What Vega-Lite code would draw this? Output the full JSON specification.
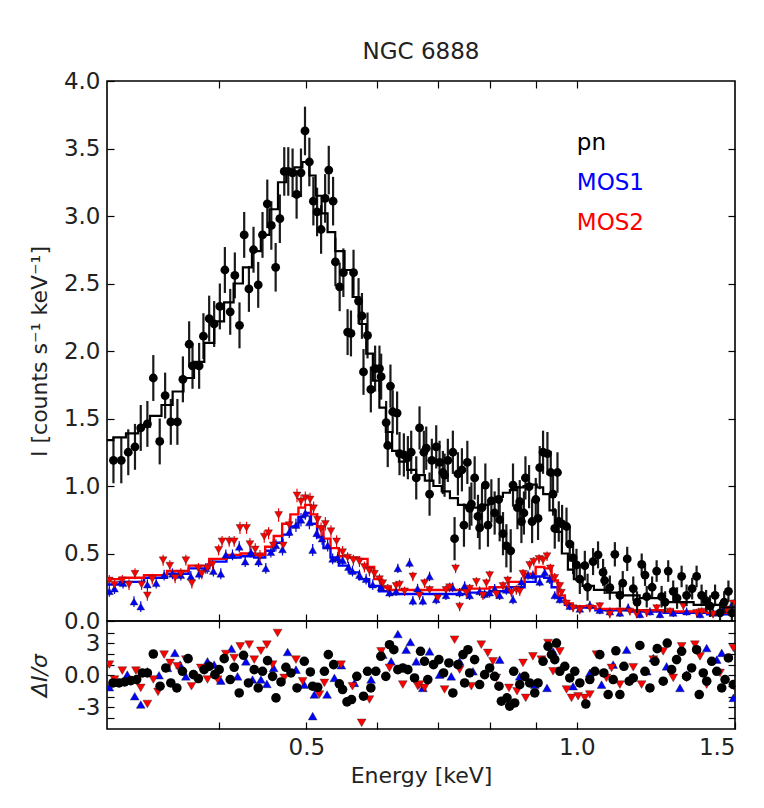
{
  "$schema": "https://vega.github.io/schema/vega-lite/v6.json",
  "background": "white",
  "padding": {"left": 27, "top": 40, "right": 5, "bottom": 5},
  "spacing": 0,
  "bounds": "flush",
  "config": {
    "font": "DejaVu Sans",
    "view": {"stroke": "black", "strokeWidth": 1.6},
    "axis": {"grid": false, "domain": false, "tickColor": "black", "tickSize": -7, "tickWidth": 1.2, "labelPadding": 14, "labelColor": "#222", "labelFont": "DejaVu Sans", "labelFontSize": 23, "titleFont": "DejaVu Sans", "titleFontSize": 22, "titleFontWeight": "normal", "titleColor": "#222"},
    "title": {"font": "DejaVu Sans", "fontSize": 23, "fontWeight": "normal", "color": "#222"}
  },
  "datasets": {
    "spec": [
      {"s":"MOS1","E":0.3018,"I":0.22,"e":0.04},{"s":"MOS1","E":0.3058,"I":0.24,"e":0.04},{"s":"MOS1","E":0.3126,"I":0.28,"e":0.04},{"s":"MOS1","E":0.3215,"I":0.144,"e":0.04},{"s":"MOS1","E":0.3271,"I":0.107,"e":0.04},{"s":"MOS1","E":0.3327,"I":0.27,"e":0.04},{"s":"MOS1","E":0.3403,"I":0.28,"e":0.04},{"s":"MOS1","E":0.3473,"I":0.34,"e":0.04},{"s":"MOS1","E":0.3548,"I":0.35,"e":0.04},{"s":"MOS1","E":0.3625,"I":0.34,"e":0.04},{"s":"MOS1","E":0.3719,"I":0.33,"e":0.04},{"s":"MOS1","E":0.3799,"I":0.35,"e":0.04},{"s":"MOS1","E":0.3865,"I":0.39,"e":0.04},{"s":"MOS1","E":0.394,"I":0.37,"e":0.04},{"s":"MOS1","E":0.4016,"I":0.35,"e":0.04},{"s":"MOS1","E":0.4068,"I":0.49,"e":0.04},{"s":"MOS1","E":0.4138,"I":0.49,"e":0.04},{"s":"MOS1","E":0.421,"I":0.55,"e":0.04},{"s":"MOS1","E":0.4275,"I":0.44,"e":0.04},{"s":"MOS1","E":0.4338,"I":0.51,"e":0.04},{"s":"MOS1","E":0.4424,"I":0.44,"e":0.04},{"s":"MOS1","E":0.4507,"I":0.39,"e":0.04},{"s":"MOS1","E":0.4566,"I":0.51,"e":0.04},{"s":"MOS1","E":0.4625,"I":0.56,"e":0.045},{"s":"MOS1","E":0.4704,"I":0.53,"e":0.045},{"s":"MOS1","E":0.4786,"I":0.66,"e":0.045},{"s":"MOS1","E":0.4869,"I":0.71,"e":0.05},{"s":"MOS1","E":0.4932,"I":0.75,"e":0.05},{"s":"MOS1","E":0.4987,"I":0.8,"e":0.05},{"s":"MOS1","E":0.5039,"I":0.73,"e":0.05},{"s":"MOS1","E":0.5082,"I":0.526,"e":0.045},{"s":"MOS1","E":0.5135,"I":0.65,"e":0.045},{"s":"MOS1","E":0.5206,"I":0.61,"e":0.045},{"s":"MOS1","E":0.5281,"I":0.56,"e":0.045},{"s":"MOS1","E":0.5349,"I":0.46,"e":0.04},{"s":"MOS1","E":0.5418,"I":0.47,"e":0.04},{"s":"MOS1","E":0.5487,"I":0.45,"e":0.04},{"s":"MOS1","E":0.5571,"I":0.4,"e":0.04},{"s":"MOS1","E":0.5628,"I":0.37,"e":0.04},{"s":"MOS1","E":0.5729,"I":0.34,"e":0.04},{"s":"MOS1","E":0.5828,"I":0.31,"e":0.04},{"s":"MOS1","E":0.5928,"I":0.27,"e":0.04},{"s":"MOS1","E":0.6057,"I":0.25,"e":0.035},{"s":"MOS1","E":0.6188,"I":0.21,"e":0.035},{"s":"MOS1","E":0.6293,"I":0.22,"e":0.035},{"s":"MOS1","E":0.6322,"I":0.39,"e":0.035},{"s":"MOS1","E":0.6514,"I":0.43,"e":0.035},{"s":"MOS1","E":0.657,"I":0.15,"e":0.035},{"s":"MOS1","E":0.6649,"I":0.24,"e":0.035},{"s":"MOS1","E":0.674,"I":0.15,"e":0.035},{"s":"MOS1","E":0.6857,"I":0.33,"e":0.035},{"s":"MOS1","E":0.6975,"I":0.16,"e":0.035},{"s":"MOS1","E":0.7152,"I":0.19,"e":0.035},{"s":"MOS1","E":0.7274,"I":0.25,"e":0.035},{"s":"MOS1","E":0.7406,"I":0.21,"e":0.035},{"s":"MOS1","E":0.7502,"I":0.26,"e":0.035},{"s":"MOS1","E":0.7599,"I":0.19,"e":0.035},{"s":"MOS1","E":0.7796,"I":0.22,"e":0.035},{"s":"MOS1","E":0.7897,"I":0.2,"e":0.035},{"s":"MOS1","E":0.7999,"I":0.21,"e":0.035},{"s":"MOS1","E":0.8102,"I":0.24,"e":0.035},{"s":"MOS1","E":0.8207,"I":0.19,"e":0.035},{"s":"MOS1","E":0.8349,"I":0.23,"e":0.035},{"s":"MOS1","E":0.8492,"I":0.16,"e":0.035},{"s":"MOS1","E":0.8676,"I":0.29,"e":0.035},{"s":"MOS1","E":0.8825,"I":0.34,"e":0.035},{"s":"MOS1","E":0.8937,"I":0.34,"e":0.035},{"s":"MOS1","E":0.9094,"I":0.29,"e":0.035},{"s":"MOS1","E":0.9212,"I":0.36,"e":0.035},{"s":"MOS1","E":0.9331,"I":0.31,"e":0.035},{"s":"MOS1","E":0.9451,"I":0.19,"e":0.03},{"s":"MOS1","E":0.9574,"I":0.16,"e":0.03},{"s":"MOS1","E":0.9822,"I":0.11,"e":0.03},{"s":"MOS1","E":1.0078,"I":0.09,"e":0.03},{"s":"MOS1","E":1.034,"I":0.12,"e":0.03},{"s":"MOS1","E":1.0608,"I":0.08,"e":0.03},{"s":"MOS1","E":1.0884,"I":0.07,"e":0.03},{"s":"MOS1","E":1.1168,"I":0.06,"e":0.03},{"s":"MOS1","E":1.1408,"I":0.1,"e":0.03},{"s":"MOS1","E":1.1755,"I":0.05,"e":0.03},{"s":"MOS1","E":1.2062,"I":0.07,"e":0.03},{"s":"MOS1","E":1.2376,"I":0.05,"e":0.03},{"s":"MOS1","E":1.2804,"I":0.06,"e":0.03},{"s":"MOS1","E":1.325,"I":0.07,"e":0.03},{"s":"MOS1","E":1.3714,"I":0.05,"e":0.03},{"s":"MOS1","E":1.4181,"I":0.06,"e":0.03},{"s":"MOS1","E":1.456,"I":0.085,"e":0.03},{"s":"MOS1","E":1.4874,"I":0.12,"e":0.03},
      {"s":"MOS2","E":0.3018,"I":0.3,"e":0.04},{"s":"MOS2","E":0.3058,"I":0.27,"e":0.04},{"s":"MOS2","E":0.312,"I":0.3,"e":0.04},{"s":"MOS2","E":0.3174,"I":0.27,"e":0.04},{"s":"MOS2","E":0.3223,"I":0.35,"e":0.04},{"s":"MOS2","E":0.3278,"I":0.27,"e":0.04},{"s":"MOS2","E":0.3327,"I":0.19,"e":0.04},{"s":"MOS2","E":0.3369,"I":0.31,"e":0.04},{"s":"MOS2","E":0.3464,"I":0.45,"e":0.04},{"s":"MOS2","E":0.3524,"I":0.41,"e":0.04},{"s":"MOS2","E":0.3572,"I":0.32,"e":0.04},{"s":"MOS2","E":0.3625,"I":0.35,"e":0.04},{"s":"MOS2","E":0.3672,"I":0.45,"e":0.04},{"s":"MOS2","E":0.3729,"I":0.28,"e":0.04},{"s":"MOS2","E":0.3792,"I":0.39,"e":0.04},{"s":"MOS2","E":0.3825,"I":0.35,"e":0.04},{"s":"MOS2","E":0.3881,"I":0.39,"e":0.04},{"s":"MOS2","E":0.3932,"I":0.42,"e":0.04},{"s":"MOS2","E":0.3993,"I":0.526,"e":0.04},{"s":"MOS2","E":0.4029,"I":0.59,"e":0.04},{"s":"MOS2","E":0.4103,"I":0.59,"e":0.04},{"s":"MOS2","E":0.4156,"I":0.59,"e":0.04},{"s":"MOS2","E":0.4218,"I":0.69,"e":0.045},{"s":"MOS2","E":0.429,"I":0.69,"e":0.045},{"s":"MOS2","E":0.4327,"I":0.57,"e":0.045},{"s":"MOS2","E":0.4387,"I":0.53,"e":0.045},{"s":"MOS2","E":0.444,"I":0.48,"e":0.045},{"s":"MOS2","E":0.4489,"I":0.625,"e":0.045},{"s":"MOS2","E":0.4539,"I":0.65,"e":0.045},{"s":"MOS2","E":0.4594,"I":0.56,"e":0.045},{"s":"MOS2","E":0.4657,"I":0.785,"e":0.05},{"s":"MOS2","E":0.4713,"I":0.56,"e":0.05},{"s":"MOS2","E":0.4786,"I":0.71,"e":0.05},{"s":"MOS2","E":0.4882,"I":0.93,"e":0.05},{"s":"MOS2","E":0.4932,"I":0.885,"e":0.05},{"s":"MOS2","E":0.4987,"I":0.91,"e":0.05},{"s":"MOS2","E":0.5048,"I":0.9,"e":0.05},{"s":"MOS2","E":0.5094,"I":0.835,"e":0.05},{"s":"MOS2","E":0.5146,"I":0.75,"e":0.05},{"s":"MOS2","E":0.5192,"I":0.68,"e":0.05},{"s":"MOS2","E":0.525,"I":0.72,"e":0.05},{"s":"MOS2","E":0.5326,"I":0.665,"e":0.045},{"s":"MOS2","E":0.5403,"I":0.59,"e":0.045},{"s":"MOS2","E":0.5487,"I":0.51,"e":0.045},{"s":"MOS2","E":0.5558,"I":0.47,"e":0.04},{"s":"MOS2","E":0.5641,"I":0.45,"e":0.04},{"s":"MOS2","E":0.5729,"I":0.44,"e":0.04},{"s":"MOS2","E":0.5803,"I":0.4,"e":0.04},{"s":"MOS2","E":0.5878,"I":0.37,"e":0.04},{"s":"MOS2","E":0.5954,"I":0.35,"e":0.04},{"s":"MOS2","E":0.6031,"I":0.31,"e":0.04},{"s":"MOS2","E":0.6083,"I":0.28,"e":0.035},{"s":"MOS2","E":0.616,"I":0.24,"e":0.035},{"s":"MOS2","E":0.6293,"I":0.26,"e":0.035},{"s":"MOS2","E":0.6349,"I":0.27,"e":0.035},{"s":"MOS2","E":0.6431,"I":0.22,"e":0.035},{"s":"MOS2","E":0.657,"I":0.33,"e":0.035},{"s":"MOS2","E":0.6683,"I":0.19,"e":0.035},{"s":"MOS2","E":0.6769,"I":0.28,"e":0.035},{"s":"MOS2","E":0.6857,"I":0.23,"e":0.035},{"s":"MOS2","E":0.7002,"I":0.17,"e":0.035},{"s":"MOS2","E":0.7152,"I":0.23,"e":0.035},{"s":"MOS2","E":0.7218,"I":0.25,"e":0.035},{"s":"MOS2","E":0.733,"I":0.39,"e":0.035},{"s":"MOS2","E":0.7406,"I":0.107,"e":0.035},{"s":"MOS2","E":0.7535,"I":0.21,"e":0.035},{"s":"MOS2","E":0.7599,"I":0.24,"e":0.035},{"s":"MOS2","E":0.7731,"I":0.29,"e":0.035},{"s":"MOS2","E":0.7863,"I":0.19,"e":0.035},{"s":"MOS2","E":0.7932,"I":0.28,"e":0.035},{"s":"MOS2","E":0.7999,"I":0.34,"e":0.035},{"s":"MOS2","E":0.8137,"I":0.2,"e":0.035},{"s":"MOS2","E":0.8277,"I":0.26,"e":0.035},{"s":"MOS2","E":0.8378,"I":0.3,"e":0.035},{"s":"MOS2","E":0.8457,"I":0.21,"e":0.035},{"s":"MOS2","E":0.8566,"I":0.23,"e":0.035},{"s":"MOS2","E":0.864,"I":0.22,"e":0.035},{"s":"MOS2","E":0.8713,"I":0.35,"e":0.035},{"s":"MOS2","E":0.8864,"I":0.415,"e":0.035},{"s":"MOS2","E":0.8956,"I":0.44,"e":0.035},{"s":"MOS2","E":0.9078,"I":0.46,"e":0.035},{"s":"MOS2","E":0.9172,"I":0.45,"e":0.035},{"s":"MOS2","E":0.9265,"I":0.48,"e":0.035},{"s":"MOS2","E":0.9346,"I":0.39,"e":0.035},{"s":"MOS2","E":0.9451,"I":0.32,"e":0.035},{"s":"MOS2","E":0.9574,"I":0.26,"e":0.03},{"s":"MOS2","E":0.9615,"I":0.21,"e":0.03},{"s":"MOS2","E":0.974,"I":0.13,"e":0.03},{"s":"MOS2","E":0.9906,"I":0.095,"e":0.03},{"s":"MOS2","E":1.0078,"I":0.08,"e":0.03},{"s":"MOS2","E":1.034,"I":0.095,"e":0.03},{"s":"MOS2","E":1.0608,"I":0.11,"e":0.03},{"s":"MOS2","E":1.0884,"I":0.05,"e":0.03},{"s":"MOS2","E":1.1168,"I":0.07,"e":0.03},{"s":"MOS2","E":1.1458,"I":0.07,"e":0.03},{"s":"MOS2","E":1.1657,"I":0.05,"e":0.03},{"s":"MOS2","E":1.1963,"I":0.06,"e":0.03},{"s":"MOS2","E":1.2271,"I":0.095,"e":0.03},{"s":"MOS2","E":1.2698,"I":0.07,"e":0.03},{"s":"MOS2","E":1.3141,"I":0.11,"e":0.03},{"s":"MOS2","E":1.3594,"I":0.06,"e":0.03},{"s":"MOS2","E":1.3769,"I":0.07,"e":0.03},{"s":"MOS2","E":1.4181,"I":0.05,"e":0.03},{"s":"MOS2","E":1.4688,"I":0.085,"e":0.03},{"s":"MOS2","E":1.4937,"I":0.13,"e":0.03},
      {"s":"pn","E":0.305,"I":1.19,"e":0.17},{"s":"pn","E":0.3112,"I":1.19,"e":0.17},{"s":"pn","E":0.3168,"I":1.25,"e":0.17},{"s":"pn","E":0.3223,"I":1.29,"e":0.17},{"s":"pn","E":0.3271,"I":1.43,"e":0.17},{"s":"pn","E":0.3327,"I":1.46,"e":0.17},{"s":"pn","E":0.3378,"I":1.8,"e":0.17},{"s":"pn","E":0.3434,"I":1.33,"e":0.17},{"s":"pn","E":0.3482,"I":1.67,"e":0.17},{"s":"pn","E":0.3533,"I":1.475,"e":0.17},{"s":"pn","E":0.3593,"I":1.475,"e":0.17},{"s":"pn","E":0.3644,"I":1.79,"e":0.17},{"s":"pn","E":0.3703,"I":2.05,"e":0.17},{"s":"pn","E":0.3735,"I":1.89,"e":0.17},{"s":"pn","E":0.3799,"I":1.89,"e":0.17},{"s":"pn","E":0.3841,"I":2.11,"e":0.17},{"s":"pn","E":0.3898,"I":2.24,"e":0.17},{"s":"pn","E":0.3948,"I":2.2,"e":0.17},{"s":"pn","E":0.4006,"I":2.33,"e":0.17},{"s":"pn","E":0.4058,"I":2.6,"e":0.17},{"s":"pn","E":0.4114,"I":2.29,"e":0.17},{"s":"pn","E":0.4163,"I":2.56,"e":0.17},{"s":"pn","E":0.4213,"I":2.19,"e":0.17},{"s":"pn","E":0.4264,"I":2.86,"e":0.17},{"s":"pn","E":0.4316,"I":2.46,"e":0.17},{"s":"pn","E":0.4367,"I":2.75,"e":0.17},{"s":"pn","E":0.442,"I":2.49,"e":0.17},{"s":"pn","E":0.4469,"I":2.86,"e":0.17},{"s":"pn","E":0.4524,"I":3.09,"e":0.18},{"s":"pn","E":0.4571,"I":2.93,"e":0.18},{"s":"pn","E":0.4622,"I":2.62,"e":0.18},{"s":"pn","E":0.4672,"I":2.98,"e":0.18},{"s":"pn","E":0.4725,"I":3.33,"e":0.18},{"s":"pn","E":0.4774,"I":3.33,"e":0.18},{"s":"pn","E":0.4827,"I":3.32,"e":0.18},{"s":"pn","E":0.4877,"I":3.16,"e":0.18},{"s":"pn","E":0.4932,"I":3.32,"e":0.18},{"s":"pn","E":0.4983,"I":3.63,"e":0.18},{"s":"pn","E":0.5039,"I":3.4,"e":0.18},{"s":"pn","E":0.5091,"I":3.11,"e":0.18},{"s":"pn","E":0.514,"I":3.03,"e":0.18},{"s":"pn","E":0.5193,"I":2.9,"e":0.18},{"s":"pn","E":0.5247,"I":3.13,"e":0.18},{"s":"pn","E":0.5296,"I":3.34,"e":0.18},{"s":"pn","E":0.5355,"I":3.11,"e":0.18},{"s":"pn","E":0.5387,"I":2.66,"e":0.18},{"s":"pn","E":0.5446,"I":2.475,"e":0.18},{"s":"pn","E":0.5498,"I":2.58,"e":0.18},{"s":"pn","E":0.5558,"I":2.14,"e":0.17},{"s":"pn","E":0.5606,"I":2.13,"e":0.17},{"s":"pn","E":0.5643,"I":2.58,"e":0.17},{"s":"pn","E":0.5716,"I":2.37,"e":0.17},{"s":"pn","E":0.5766,"I":2.26,"e":0.17},{"s":"pn","E":0.5789,"I":1.845,"e":0.17},{"s":"pn","E":0.5849,"I":2.115,"e":0.17},{"s":"pn","E":0.5899,"I":1.715,"e":0.17},{"s":"pn","E":0.5964,"I":1.87,"e":0.17},{"s":"pn","E":0.6031,"I":1.87,"e":0.17},{"s":"pn","E":0.6057,"I":1.81,"e":0.17},{"s":"pn","E":0.6135,"I":1.47,"e":0.16},{"s":"pn","E":0.616,"I":1.3,"e":0.16},{"s":"pn","E":0.6203,"I":1.74,"e":0.16},{"s":"pn","E":0.6239,"I":1.55,"e":0.16},{"s":"pn","E":0.631,"I":1.54,"e":0.16},{"s":"pn","E":0.6349,"I":1.24,"e":0.16},{"s":"pn","E":0.642,"I":1.23,"e":0.16},{"s":"pn","E":0.6486,"I":1.21,"e":0.16},{"s":"pn","E":0.6542,"I":1.25,"e":0.16},{"s":"pn","E":0.6627,"I":1.06,"e":0.16},{"s":"pn","E":0.6683,"I":1.43,"e":0.16},{"s":"pn","E":0.6757,"I":1.25,"e":0.16},{"s":"pn","E":0.6799,"I":1.28,"e":0.16},{"s":"pn","E":0.6857,"I":0.94,"e":0.16},{"s":"pn","E":0.6897,"I":1.19,"e":0.16},{"s":"pn","E":0.6975,"I":1.29,"e":0.16},{"s":"pn","E":0.7035,"I":1.175,"e":0.16},{"s":"pn","E":0.7095,"I":1.1,"e":0.16},{"s":"pn","E":0.7126,"I":1.08,"e":0.16},{"s":"pn","E":0.7186,"I":1.19,"e":0.16},{"s":"pn","E":0.7279,"I":1.25,"e":0.16},{"s":"pn","E":0.7311,"I":0.61,"e":0.16},{"s":"pn","E":0.7374,"I":1.09,"e":0.16},{"s":"pn","E":0.745,"I":1.12,"e":0.16},{"s":"pn","E":0.7489,"I":0.71,"e":0.16},{"s":"pn","E":0.7554,"I":1.175,"e":0.16},{"s":"pn","E":0.7599,"I":0.835,"e":0.16},{"s":"pn","E":0.7633,"I":0.866,"e":0.16},{"s":"pn","E":0.7697,"I":1.06,"e":0.16},{"s":"pn","E":0.7763,"I":0.775,"e":0.16},{"s":"pn","E":0.7796,"I":0.69,"e":0.16},{"s":"pn","E":0.7843,"I":0.84,"e":0.16},{"s":"pn","E":0.7911,"I":1.007,"e":0.16},{"s":"pn","E":0.7964,"I":0.71,"e":0.16},{"s":"pn","E":0.8034,"I":0.89,"e":0.16},{"s":"pn","E":0.8102,"I":0.8,"e":0.16},{"s":"pn","E":0.8186,"I":0.9,"e":0.16},{"s":"pn","E":0.8207,"I":0.75,"e":0.16},{"s":"pn","E":0.8277,"I":0.647,"e":0.16},{"s":"pn","E":0.8349,"I":0.557,"e":0.16},{"s":"pn","E":0.8442,"I":0.52,"e":0.16},{"s":"pn","E":0.8492,"I":1.007,"e":0.16},{"s":"pn","E":0.8589,"I":0.84,"e":0.16},{"s":"pn","E":0.864,"I":0.884,"e":0.16},{"s":"pn","E":0.8677,"I":0.737,"e":0.16},{"s":"pn","E":0.8733,"I":0.8,"e":0.16},{"s":"pn","E":0.8767,"I":1.06,"e":0.16},{"s":"pn","E":0.8849,"I":0.995,"e":0.16},{"s":"pn","E":0.8918,"I":0.737,"e":0.16},{"s":"pn","E":0.9002,"I":0.9,"e":0.16},{"s":"pn","E":0.9055,"I":0.76,"e":0.16},{"s":"pn","E":0.9094,"I":1.136,"e":0.16},{"s":"pn","E":0.9172,"I":1.25,"e":0.16},{"s":"pn","E":0.9275,"I":1.24,"e":0.16},{"s":"pn","E":0.9355,"I":1.1,"e":0.16},{"s":"pn","E":0.941,"I":0.94,"e":0.16},{"s":"pn","E":0.9451,"I":0.686,"e":0.15},{"s":"pn","E":0.9517,"I":1.1,"e":0.15},{"s":"pn","E":0.9549,"I":0.737,"e":0.15},{"s":"pn","E":0.963,"I":0.72,"e":0.14},{"s":"pn","E":0.974,"I":0.7,"e":0.14},{"s":"pn","E":0.9822,"I":0.57,"e":0.13},{"s":"pn","E":0.9906,"I":0.467,"e":0.12},{"s":"pn","E":0.9992,"I":0.415,"e":0.12},{"s":"pn","E":1.0078,"I":0.31,"e":0.11},{"s":"pn","E":1.0208,"I":0.41,"e":0.11},{"s":"pn","E":1.028,"I":0.25,"e":0.1},{"s":"pn","E":1.0426,"I":0.44,"e":0.1},{"s":"pn","E":1.056,"I":0.49,"e":0.1},{"s":"pn","E":1.0697,"I":0.36,"e":0.1},{"s":"pn","E":1.074,"I":0.3,"e":0.1},{"s":"pn","E":1.0884,"I":0.247,"e":0.09},{"s":"pn","E":1.1025,"I":0.494,"e":0.09},{"s":"pn","E":1.1168,"I":0.19,"e":0.09},{"s":"pn","E":1.125,"I":0.28,"e":0.09},{"s":"pn","E":1.138,"I":0.46,"e":0.09},{"s":"pn","E":1.1557,"I":0.24,"e":0.09},{"s":"pn","E":1.167,"I":0.14,"e":0.08},{"s":"pn","E":1.181,"I":0.42,"e":0.08},{"s":"pn","E":1.1911,"I":0.34,"e":0.08},{"s":"pn","E":1.1963,"I":0.18,"e":0.08},{"s":"pn","E":1.213,"I":0.25,"e":0.08},{"s":"pn","E":1.2271,"I":0.37,"e":0.08},{"s":"pn","E":1.2428,"I":0.18,"e":0.08},{"s":"pn","E":1.254,"I":0.14,"e":0.08},{"s":"pn","E":1.264,"I":0.37,"e":0.08},{"s":"pn","E":1.2803,"I":0.22,"e":0.08},{"s":"pn","E":1.293,"I":0.17,"e":0.08},{"s":"pn","E":1.3082,"I":0.33,"e":0.08},{"s":"pn","E":1.325,"I":0.19,"e":0.08},{"s":"pn","E":1.344,"I":0.24,"e":0.08},{"s":"pn","E":1.3594,"I":0.33,"e":0.08},{"s":"pn","E":1.3769,"I":0.19,"e":0.08},{"s":"pn","E":1.393,"I":0.15,"e":0.08},{"s":"pn","E":1.4071,"I":0.11,"e":0.08},{"s":"pn","E":1.4253,"I":0.19,"e":0.08},{"s":"pn","E":1.4436,"I":0.06,"e":0.08},{"s":"pn","E":1.459,"I":0.14,"e":0.08},{"s":"pn","E":1.4749,"I":0.22,"e":0.08},{"s":"pn","E":1.488,"I":0.06,"e":0.08}
    ],
    "model": [
      {"s":"MOS1","E":0.3,"I":0.27},{"s":"MOS1","E":0.32,"I":0.29},{"s":"MOS1","E":0.34,"I":0.32},{"s":"MOS1","E":0.36,"I":0.35},{"s":"MOS1","E":0.38,"I":0.39},{"s":"MOS1","E":0.4,"I":0.44},{"s":"MOS1","E":0.415,"I":0.47},{"s":"MOS1","E":0.43,"I":0.48},{"s":"MOS1","E":0.445,"I":0.47},{"s":"MOS1","E":0.455,"I":0.52},{"s":"MOS1","E":0.465,"I":0.58},{"s":"MOS1","E":0.475,"I":0.64},{"s":"MOS1","E":0.485,"I":0.7},{"s":"MOS1","E":0.495,"I":0.77},{"s":"MOS1","E":0.502,"I":0.8},{"s":"MOS1","E":0.51,"I":0.72},{"s":"MOS1","E":0.518,"I":0.62},{"s":"MOS1","E":0.527,"I":0.54},{"s":"MOS1","E":0.537,"I":0.47},{"s":"MOS1","E":0.55,"I":0.41},{"s":"MOS1","E":0.565,"I":0.36},{"s":"MOS1","E":0.58,"I":0.31},{"s":"MOS1","E":0.595,"I":0.26},{"s":"MOS1","E":0.61,"I":0.22},{"s":"MOS1","E":0.63,"I":0.2},{"s":"MOS1","E":0.66,"I":0.2},{"s":"MOS1","E":0.7,"I":0.2},{"s":"MOS1","E":0.74,"I":0.2},{"s":"MOS1","E":0.78,"I":0.21},{"s":"MOS1","E":0.82,"I":0.22},{"s":"MOS1","E":0.86,"I":0.25},{"s":"MOS1","E":0.89,"I":0.29},{"s":"MOS1","E":0.91,"I":0.33},{"s":"MOS1","E":0.93,"I":0.32},{"s":"MOS1","E":0.945,"I":0.25},{"s":"MOS1","E":0.96,"I":0.17},{"s":"MOS1","E":0.98,"I":0.12},{"s":"MOS1","E":1.0,"I":0.1},{"s":"MOS1","E":1.1,"I":0.08},{"s":"MOS1","E":1.2,"I":0.07},{"s":"MOS1","E":1.3,"I":0.06},{"s":"MOS1","E":1.5,"I":0.05},
      {"s":"MOS2","E":0.3,"I":0.31},{"s":"MOS2","E":0.32,"I":0.32},{"s":"MOS2","E":0.34,"I":0.34},{"s":"MOS2","E":0.36,"I":0.37},{"s":"MOS2","E":0.38,"I":0.41},{"s":"MOS2","E":0.4,"I":0.46},{"s":"MOS2","E":0.415,"I":0.49},{"s":"MOS2","E":0.43,"I":0.5},{"s":"MOS2","E":0.445,"I":0.49},{"s":"MOS2","E":0.455,"I":0.55},{"s":"MOS2","E":0.465,"I":0.63},{"s":"MOS2","E":0.475,"I":0.72},{"s":"MOS2","E":0.485,"I":0.79},{"s":"MOS2","E":0.495,"I":0.84},{"s":"MOS2","E":0.502,"I":0.86},{"s":"MOS2","E":0.51,"I":0.79},{"s":"MOS2","E":0.518,"I":0.7},{"s":"MOS2","E":0.527,"I":0.61},{"s":"MOS2","E":0.537,"I":0.54},{"s":"MOS2","E":0.55,"I":0.48},{"s":"MOS2","E":0.565,"I":0.47},{"s":"MOS2","E":0.58,"I":0.46},{"s":"MOS2","E":0.59,"I":0.4},{"s":"MOS2","E":0.6,"I":0.31},{"s":"MOS2","E":0.612,"I":0.25},{"s":"MOS2","E":0.63,"I":0.23},{"s":"MOS2","E":0.66,"I":0.23},{"s":"MOS2","E":0.7,"I":0.23},{"s":"MOS2","E":0.74,"I":0.23},{"s":"MOS2","E":0.78,"I":0.24},{"s":"MOS2","E":0.82,"I":0.25},{"s":"MOS2","E":0.86,"I":0.29},{"s":"MOS2","E":0.89,"I":0.35},{"s":"MOS2","E":0.91,"I":0.4},{"s":"MOS2","E":0.93,"I":0.39},{"s":"MOS2","E":0.945,"I":0.3},{"s":"MOS2","E":0.96,"I":0.19},{"s":"MOS2","E":0.98,"I":0.13},{"s":"MOS2","E":1.0,"I":0.11},{"s":"MOS2","E":1.1,"I":0.09},{"s":"MOS2","E":1.2,"I":0.08},{"s":"MOS2","E":1.3,"I":0.07},{"s":"MOS2","E":1.5,"I":0.06},
      {"s":"pn","E":0.3,"I":1.34},{"s":"pn","E":0.31,"I":1.36},{"s":"pn","E":0.32,"I":1.39},{"s":"pn","E":0.33,"I":1.44},{"s":"pn","E":0.34,"I":1.52},{"s":"pn","E":0.35,"I":1.6},{"s":"pn","E":0.36,"I":1.7},{"s":"pn","E":0.37,"I":1.8},{"s":"pn","E":0.38,"I":1.92},{"s":"pn","E":0.39,"I":2.06},{"s":"pn","E":0.4,"I":2.22},{"s":"pn","E":0.41,"I":2.36},{"s":"pn","E":0.42,"I":2.5},{"s":"pn","E":0.43,"I":2.62},{"s":"pn","E":0.44,"I":2.74},{"s":"pn","E":0.45,"I":2.86},{"s":"pn","E":0.46,"I":3.05},{"s":"pn","E":0.47,"I":3.25},{"s":"pn","E":0.48,"I":3.34},{"s":"pn","E":0.49,"I":3.36},{"s":"pn","E":0.5,"I":3.4},{"s":"pn","E":0.508,"I":3.3},{"s":"pn","E":0.516,"I":3.15},{"s":"pn","E":0.524,"I":3.02},{"s":"pn","E":0.532,"I":2.88},{"s":"pn","E":0.545,"I":2.74},{"s":"pn","E":0.558,"I":2.6},{"s":"pn","E":0.568,"I":2.4},{"s":"pn","E":0.578,"I":2.2},{"s":"pn","E":0.588,"I":1.98},{"s":"pn","E":0.598,"I":1.78},{"s":"pn","E":0.608,"I":1.58},{"s":"pn","E":0.618,"I":1.4},{"s":"pn","E":0.628,"I":1.26},{"s":"pn","E":0.64,"I":1.18},{"s":"pn","E":0.655,"I":1.12},{"s":"pn","E":0.67,"I":1.08},{"s":"pn","E":0.685,"I":1.04},{"s":"pn","E":0.7,"I":1.0},{"s":"pn","E":0.715,"I":0.96},{"s":"pn","E":0.73,"I":0.91},{"s":"pn","E":0.745,"I":0.86},{"s":"pn","E":0.76,"I":0.84},{"s":"pn","E":0.775,"I":0.84},{"s":"pn","E":0.79,"I":0.86},{"s":"pn","E":0.805,"I":0.89},{"s":"pn","E":0.82,"I":0.92},{"s":"pn","E":0.835,"I":0.95},{"s":"pn","E":0.85,"I":0.97},{"s":"pn","E":0.865,"I":0.99},{"s":"pn","E":0.88,"I":1.0},{"s":"pn","E":0.895,"I":1.01},{"s":"pn","E":0.91,"I":0.99},{"s":"pn","E":0.925,"I":0.94},{"s":"pn","E":0.94,"I":0.82},{"s":"pn","E":0.955,"I":0.66},{"s":"pn","E":0.97,"I":0.5},{"s":"pn","E":0.985,"I":0.38},{"s":"pn","E":1.0,"I":0.31},{"s":"pn","E":1.03,"I":0.26},{"s":"pn","E":1.06,"I":0.23},{"s":"pn","E":1.1,"I":0.21},{"s":"pn","E":1.15,"I":0.19},{"s":"pn","E":1.2,"I":0.17},{"s":"pn","E":1.3,"I":0.14},{"s":"pn","E":1.4,"I":0.12},{"s":"pn","E":1.5,"I":0.1}
    ],
    "resid": [
      {"s":"MOS1","E":0.3018,"r":-1.125},{"s":"MOS1","E":0.316,"r":0.06},{"s":"MOS1","E":0.3221,"r":-1.97},{"s":"MOS1","E":0.3271,"r":-2.75},{"s":"MOS1","E":0.3327,"r":0.375},{"s":"MOS1","E":0.3428,"r":0},{"s":"MOS1","E":0.3503,"r":0.69},{"s":"MOS1","E":0.357,"r":2.1},{"s":"MOS1","E":0.3618,"r":1.0},{"s":"MOS1","E":0.3672,"r":-0.1},{"s":"MOS1","E":0.3881,"r":1.31},{"s":"MOS1","E":0.3948,"r":1.0},{"s":"MOS1","E":0.4016,"r":-0.5},{"s":"MOS1","E":0.4127,"r":2.5},{"s":"MOS1","E":0.4192,"r":-0.1},{"s":"MOS1","E":0.4283,"r":1.31},{"s":"MOS1","E":0.4356,"r":-0.4},{"s":"MOS1","E":0.4451,"r":-0.4},{"s":"MOS1","E":0.4519,"r":-0.81},{"s":"MOS1","E":0.4598,"r":0.69},{"s":"MOS1","E":0.4766,"r":2.19},{"s":"MOS1","E":0.4869,"r":0.53},{"s":"MOS1","E":0.4974,"r":-0.875},{"s":"MOS1","E":0.5082,"r":-3.84},{"s":"MOS1","E":0.5104,"r":-1.81},{"s":"MOS1","E":0.5273,"r":-1.81},{"s":"MOS1","E":0.5373,"r":-0.25},{"s":"MOS1","E":0.547,"r":0.94},{"s":"MOS1","E":0.5656,"r":-0.72},{"s":"MOS1","E":0.5903,"r":-0.4},{"s":"MOS1","E":0.6083,"r":1.94},{"s":"MOS1","E":0.6214,"r":1.31},{"s":"MOS1","E":0.6322,"r":3.875},{"s":"MOS1","E":0.6458,"r":2.4},{"s":"MOS1","E":0.6528,"r":3.125},{"s":"MOS1","E":0.6627,"r":1.31},{"s":"MOS1","E":0.674,"r":-1.19},{"s":"MOS1","E":0.6857,"r":2.25},{"s":"MOS1","E":0.7035,"r":0.06},{"s":"MOS1","E":0.7249,"r":-0.1},{"s":"MOS1","E":0.7406,"r":1.31},{"s":"MOS1","E":0.7664,"r":0.375},{"s":"MOS1","E":0.8207,"r":1.47},{"s":"MOS1","E":0.864,"r":-0.1},{"s":"MOS1","E":0.8979,"r":-0.875},{"s":"MOS1","E":0.9265,"r":-1.19},{"s":"MOS1","E":0.941,"r":2.25},{"s":"MOS1","E":0.9906,"r":-1.03},{"s":"MOS1","E":1.034,"r":0.22},{"s":"MOS1","E":1.0655,"r":-0.875},{"s":"MOS1","E":1.0977,"r":1.0},{"s":"MOS1","E":1.1362,"r":2.4},{"s":"MOS1","E":1.1963,"r":0.375},{"s":"MOS1","E":1.2166,"r":1.625},{"s":"MOS1","E":1.2588,"r":0.84},{"s":"MOS1","E":1.3027,"r":-1.19},{"s":"MOS1","E":1.325,"r":0.06},{"s":"MOS1","E":1.395,"r":2.56},{"s":"MOS1","E":1.4315,"r":1.47},{"s":"MOS1","E":1.4498,"r":2.1},{"s":"MOS1","E":1.4937,"r":-2.125},
      {"s":"MOS2","E":0.3018,"r":1.0},{"s":"MOS2","E":0.3058,"r":-0.4},{"s":"MOS2","E":0.312,"r":0.44},{"s":"MOS2","E":0.3231,"r":0.44},{"s":"MOS2","E":0.3271,"r":-1.19},{"s":"MOS2","E":0.3327,"r":-2.7},{"s":"MOS2","E":0.3378,"r":-0.4},{"s":"MOS2","E":0.3419,"r":-1.56},{"s":"MOS2","E":0.3473,"r":1.94},{"s":"MOS2","E":0.3527,"r":1.16},{"s":"MOS2","E":0.3593,"r":0.84},{"s":"MOS2","E":0.3672,"r":1.47},{"s":"MOS2","E":0.3725,"r":-1.03},{"s":"MOS2","E":0.3815,"r":0.69},{"s":"MOS2","E":0.3881,"r":-0.4},{"s":"MOS2","E":0.3982,"r":-0.4},{"s":"MOS2","E":0.4068,"r":2.0},{"s":"MOS2","E":0.4156,"r":1.625},{"s":"MOS2","E":0.4221,"r":2.72},{"s":"MOS2","E":0.4319,"r":2.875},{"s":"MOS2","E":0.4375,"r":1.47},{"s":"MOS2","E":0.4451,"r":2.3},{"s":"MOS2","E":0.4519,"r":2.875},{"s":"MOS2","E":0.4586,"r":1.0},{"s":"MOS2","E":0.4645,"r":3.97},{"s":"MOS2","E":0.4725,"r":-0.25},{"s":"MOS2","E":0.4869,"r":1.47},{"s":"MOS2","E":0.4953,"r":-0.56},{"s":"MOS2","E":0.517,"r":-1.81},{"s":"MOS2","E":0.5237,"r":-0.72},{"s":"MOS2","E":0.5465,"r":1.0},{"s":"MOS2","E":0.5628,"r":-1.03},{"s":"MOS2","E":0.5762,"r":-4.47},{"s":"MOS2","E":0.5878,"r":-2.28},{"s":"MOS2","E":0.6057,"r":2.25},{"s":"MOS2","E":0.6188,"r":0.69},{"s":"MOS2","E":0.6403,"r":-0.875},{"s":"MOS2","E":0.6654,"r":-1.03},{"s":"MOS2","E":0.6683,"r":-0.875},{"s":"MOS2","E":0.6769,"r":-1.19},{"s":"MOS2","E":0.7126,"r":-1.34},{"s":"MOS2","E":0.7311,"r":3.34},{"s":"MOS2","E":0.7406,"r":0.53},{"s":"MOS2","E":0.7632,"r":-1.03},{"s":"MOS2","E":0.7829,"r":2.875},{"s":"MOS2","E":0.7961,"r":2.1},{"s":"MOS2","E":0.8067,"r":1.31},{"s":"MOS2","E":0.8137,"r":-0.25},{"s":"MOS2","E":0.8405,"r":-1.19},{"s":"MOS2","E":0.858,"r":-1.5},{"s":"MOS2","E":0.8713,"r":1.16},{"s":"MOS2","E":0.8773,"r":-2.125},{"s":"MOS2","E":0.8937,"r":1.78},{"s":"MOS2","E":0.9133,"r":1.47},{"s":"MOS2","E":0.929,"r":3.03},{"s":"MOS2","E":0.941,"r":0.375},{"s":"MOS2","E":0.9574,"r":2.25},{"s":"MOS2","E":0.974,"r":-1.34},{"s":"MOS2","E":0.9865,"r":-2.125},{"s":"MOS2","E":1.0034,"r":-1.97},{"s":"MOS2","E":1.0208,"r":-2.125},{"s":"MOS2","E":1.034,"r":-1.81},{"s":"MOS2","E":1.0519,"r":1.94},{"s":"MOS2","E":1.079,"r":-0.25},{"s":"MOS2","E":1.0932,"r":0.69},{"s":"MOS2","E":1.1168,"r":-0.875},{"s":"MOS2","E":1.1557,"r":0.75},{"s":"MOS2","E":1.1807,"r":-0.875},{"s":"MOS2","E":1.2166,"r":1.47},{"s":"MOS2","E":1.248,"r":2.25},{"s":"MOS2","E":1.2804,"r":-0.25},{"s":"MOS2","E":1.3083,"r":2.72},{"s":"MOS2","E":1.325,"r":-0.25},{"s":"MOS2","E":1.3536,"r":2.875},{"s":"MOS2","E":1.3714,"r":1.78},{"s":"MOS2","E":1.395,"r":-0.875},{"s":"MOS2","E":1.4436,"r":0.22},{"s":"MOS2","E":1.4937,"r":2.56},{"s":"MOS2","E":1.4962,"r":-1.03},
      {"s":"pn","E":0.3046,"r":-0.72},{"s":"pn","E":0.3094,"r":-0.72},{"s":"pn","E":0.3139,"r":-0.63},{"s":"pn","E":0.3188,"r":-0.5},{"s":"pn","E":0.3237,"r":-0.4},{"s":"pn","E":0.3284,"r":0.22},{"s":"pn","E":0.3327,"r":0.22},{"s":"pn","E":0.3378,"r":2.0},{"s":"pn","E":0.3437,"r":-1.03},{"s":"pn","E":0.3488,"r":0.69},{"s":"pn","E":0.3533,"r":-0.72},{"s":"pn","E":0.3588,"r":-1.19},{"s":"pn","E":0.364,"r":0.375},{"s":"pn","E":0.3693,"r":1.56},{"s":"pn","E":0.3744,"r":0.06},{"s":"pn","E":0.3792,"r":-0.31},{"s":"pn","E":0.3848,"r":0.53},{"s":"pn","E":0.3898,"r":0.84},{"s":"pn","E":0.3955,"r":0.06},{"s":"pn","E":0.3999,"r":0.53},{"s":"pn","E":0.4051,"r":1.56},{"s":"pn","E":0.4114,"r":-0.4},{"s":"pn","E":0.4156,"r":0.75},{"s":"pn","E":0.421,"r":-1.66},{"s":"pn","E":0.4257,"r":1.875},{"s":"pn","E":0.4311,"r":-0.72},{"s":"pn","E":0.4375,"r":0.53},{"s":"pn","E":0.442,"r":-1.19},{"s":"pn","E":0.4469,"r":0.375},{"s":"pn","E":0.4527,"r":1.375},{"s":"pn","E":0.4586,"r":-0.1},{"s":"pn","E":0.4626,"r":-2.125},{"s":"pn","E":0.4686,"r":-0.63},{"s":"pn","E":0.4745,"r":0.75},{"s":"pn","E":0.4807,"r":0.22},{"s":"pn","E":0.4882,"r":-1.19},{"s":"pn","E":0.4974,"r":1.31},{"s":"pn","E":0.5052,"r":0.31},{"s":"pn","E":0.5082,"r":-1.03},{"s":"pn","E":0.5148,"r":-1.125},{"s":"pn","E":0.5237,"r":0.375},{"s":"pn","E":0.529,"r":1.94},{"s":"pn","E":0.5363,"r":1.0},{"s":"pn","E":0.5442,"r":-0.81},{"s":"pn","E":0.5487,"r":-1.34},{"s":"pn","E":0.5549,"r":-2.5},{"s":"pn","E":0.5614,"r":-2.28},{"s":"pn","E":0.5691,"r":-0.1},{"s":"pn","E":0.5789,"r":-1.97},{"s":"pn","E":0.5849,"r":0.375},{"s":"pn","E":0.5899,"r":-1.19},{"s":"pn","E":0.5975,"r":0.375},{"s":"pn","E":0.6052,"r":1.78},{"s":"pn","E":0.613,"r":-0.1},{"s":"pn","E":0.6188,"r":2.875},{"s":"pn","E":0.6257,"r":2.4},{"s":"pn","E":0.6322,"r":0.53},{"s":"pn","E":0.6403,"r":0.69},{"s":"pn","E":0.6486,"r":0.53},{"s":"pn","E":0.6598,"r":-0.25},{"s":"pn","E":0.67,"r":2.25},{"s":"pn","E":0.6769,"r":1.31},{"s":"pn","E":0.6826,"r":-0.4},{"s":"pn","E":0.6927,"r":1.0},{"s":"pn","E":0.7023,"r":1.47},{"s":"pn","E":0.7108,"r":0.22},{"s":"pn","E":0.7205,"r":1.16},{"s":"pn","E":0.7279,"r":-1.66},{"s":"pn","E":0.7374,"r":1.0},{"s":"pn","E":0.747,"r":1.94},{"s":"pn","E":0.7502,"r":-0.72},{"s":"pn","E":0.7566,"r":2.4},{"s":"pn","E":0.7599,"r":0.22},{"s":"pn","E":0.7697,"r":1.47},{"s":"pn","E":0.7796,"r":-0.875},{"s":"pn","E":0.7897,"r":0.06},{"s":"pn","E":0.7999,"r":0.69},{"s":"pn","E":0.8102,"r":-0.1},{"s":"pn","E":0.8192,"r":-1.03},{"s":"pn","E":0.8243,"r":-2.44},{"s":"pn","E":0.8362,"r":-2.125},{"s":"pn","E":0.842,"r":-2.9},{"s":"pn","E":0.8507,"r":0.375},{"s":"pn","E":0.8529,"r":-2.6},{"s":"pn","E":0.864,"r":-0.875},{"s":"pn","E":0.8751,"r":-0.1},{"s":"pn","E":0.8864,"r":-0.72},{"s":"pn","E":0.8979,"r":-1.66},{"s":"pn","E":0.9055,"r":-0.72},{"s":"pn","E":0.9172,"r":1.31},{"s":"pn","E":0.929,"r":2.72},{"s":"pn","E":0.9372,"r":1.94},{"s":"pn","E":0.9451,"r":1.47},{"s":"pn","E":0.9493,"r":3.03},{"s":"pn","E":0.9574,"r":0.375},{"s":"pn","E":0.9697,"r":0.84},{"s":"pn","E":0.9822,"r":-0.25},{"s":"pn","E":0.9949,"r":0.375},{"s":"pn","E":1.0078,"r":-0.72},{"s":"pn","E":1.0234,"r":-2.7},{"s":"pn","E":1.034,"r":-0.4},{"s":"pn","E":1.0474,"r":0.375},{"s":"pn","E":1.0608,"r":1.94},{"s":"pn","E":1.0718,"r":0.22},{"s":"pn","E":1.0837,"r":-1.81},{"s":"pn","E":1.0977,"r":-0.4},{"s":"pn","E":1.1053,"r":2.3},{"s":"pn","E":1.1168,"r":-1.81},{"s":"pn","E":1.1284,"r":0.84},{"s":"pn","E":1.1438,"r":-0.56},{"s":"pn","E":1.1557,"r":-0.25},{"s":"pn","E":1.1755,"r":2.8},{"s":"pn","E":1.1908,"r":0.375},{"s":"pn","E":1.2062,"r":-1.19},{"s":"pn","E":1.2218,"r":1.31},{"s":"pn","E":1.229,"r":2.5},{"s":"pn","E":1.248,"r":-0.56},{"s":"pn","E":1.2609,"r":3.03},{"s":"pn","E":1.2751,"r":0.53},{"s":"pn","E":1.2915,"r":1.47},{"s":"pn","E":1.3082,"r":2.25},{"s":"pn","E":1.325,"r":-0.1},{"s":"pn","E":1.3422,"r":0.69},{"s":"pn","E":1.3594,"r":2.4},{"s":"pn","E":1.3686,"r":-1.81},{"s":"pn","E":1.3829,"r":0.22},{"s":"pn","E":1.395,"r":-0.56},{"s":"pn","E":1.4131,"r":1.31},{"s":"pn","E":1.4315,"r":0.375},{"s":"pn","E":1.4498,"r":-1.19},{"s":"pn","E":1.4623,"r":-0.4},{"s":"pn","E":1.4749,"r":1.625},{"s":"pn","E":1.4937,"r":-0.875}
    ],
    "labels": [
      {"s":"pn","E":1.0,"I":3.489},{"s":"MOS1","E":1.0,"I":3.193},{"s":"MOS2","E":1.0,"I":2.896}
    ]
  },
  "vconcat": [
    {
      "width": 628,
      "height": 540,
      "title": {"text": "NGC 6888", "anchor": "middle", "offset": 6},
      "resolve": {"axis": {"x": "independent", "y": "independent"}},
      "layer": [
        {
          "data": {"name": "spec"},
          "transform": [{"filter": "datum.s != 'pn'"}],
          "mark": {"type": "errorbar", "thickness": 1.2, "clip": true},
          "encoding": {
            "x": {"field": "E", "type": "quantitative", "scale": {"type": "log", "domain": [0.3, 1.5], "nice": false}, "axis": null},
            "y": {"field": "I", "type": "quantitative", "scale": {"domain": [0, 4], "nice": false}, "axis": null},
            "yError": {"field": "e"},
            "color": {"field": "s", "type": "nominal", "scale": {"domain": ["pn", "MOS1", "MOS2"], "range": ["#000000", "#0000ff", "#ff0000"]}, "legend": null}
          }
        },
        {
          "data": {"name": "model"},
          "transform": [{"filter": "datum.s != 'pn'"}],
          "mark": {"type": "line", "interpolate": "step", "strokeWidth": 2.4, "clip": true},
          "encoding": {
            "x": {"field": "E", "type": "quantitative", "scale": {"type": "log", "domain": [0.3, 1.5], "nice": false}, "axis": null},
            "y": {"field": "I", "type": "quantitative", "axis": null},
            "color": {"field": "s", "type": "nominal", "legend": null}
          }
        },
        {
          "data": {"name": "spec"},
          "transform": [{"filter": "datum.s != 'pn'"}],
          "mark": {"type": "point", "filled": true, "opacity": 1, "stroke": "#222222", "strokeWidth": 0.4, "clip": true},
          "encoding": {
            "x": {"field": "E", "type": "quantitative", "scale": {"type": "log", "domain": [0.3, 1.5], "nice": false}, "axis": null},
            "y": {"field": "I", "type": "quantitative", "axis": null},
            "color": {"field": "s", "type": "nominal", "legend": null},
            "shape": {"field": "s", "type": "nominal", "scale": {"domain": ["pn", "MOS1", "MOS2"], "range": ["circle", "triangle-up", "triangle-down"]}, "legend": null},
            "size": {"value": 62}
          }
        },
        {
          "data": {"name": "spec"},
          "transform": [{"filter": "datum.s == 'pn'"}],
          "mark": {"type": "errorbar", "thickness": 2.2, "color": "#1a1a1a", "clip": true},
          "encoding": {
            "x": {"field": "E", "type": "quantitative", "scale": {"type": "log", "domain": [0.3, 1.5], "nice": false}, "axis": null},
            "y": {"field": "I", "type": "quantitative", "axis": null},
            "yError": {"field": "e"}
          }
        },
        {
          "data": {"name": "model"},
          "transform": [{"filter": "datum.s == 'pn'"}],
          "mark": {"type": "line", "interpolate": "step", "strokeWidth": 2.2, "color": "#000000", "clip": true},
          "encoding": {
            "x": {"field": "E", "type": "quantitative", "scale": {"type": "log", "domain": [0.3, 1.5], "nice": false}, "axis": {"orient": "top", "values": [0.4, 0.5, 0.6, 0.7, 0.8, 0.9, 1.0], "labels": false, "title": null}},
            "y": {"field": "I", "type": "quantitative", "axis": {"orient": "right", "values": [0.5, 1, 1.5, 2, 2.5, 3, 3.5], "labels": false, "title": null}}
          }
        },
        {
          "data": {"name": "spec"},
          "transform": [{"filter": "datum.s == 'pn'"}],
          "mark": {"type": "circle", "color": "#000000", "opacity": 1, "size": 78, "clip": true},
          "encoding": {
            "x": {"field": "E", "type": "quantitative", "scale": {"type": "log", "domain": [0.3, 1.5], "nice": false}, "axis": {"orient": "bottom", "values": [0.4, 0.5, 0.6, 0.7, 0.8, 0.9, 1.0], "labels": false, "title": null}},
            "y": {"field": "I", "type": "quantitative", "axis": {"orient": "left", "values": [0, 0.5, 1, 1.5, 2, 2.5, 3, 3.5, 4], "format": ".1f", "title": "I [counts s⁻¹ keV⁻¹]", "titlePadding": 12}}
          }
        },
        {
          "data": {"name": "labels"},
          "mark": {"type": "text", "align": "left", "baseline": "alphabetic", "fontSize": 23, "font": "DejaVu Sans"},
          "encoding": {
            "x": {"field": "E", "type": "quantitative", "scale": {"type": "log", "domain": [0.3, 1.5], "nice": false}, "axis": null},
            "y": {"field": "I", "type": "quantitative", "axis": null},
            "text": {"field": "s"},
            "color": {"field": "s", "type": "nominal", "legend": null}
          }
        }
      ]
    },
    {
      "width": 628,
      "height": 108,
      "resolve": {"axis": {"x": "independent", "y": "independent"}},
      "layer": [
        {
          "mark": {"type": "rule", "strokeDash": [2, 4], "color": "#999999", "strokeWidth": 1},
          "encoding": {
            "y": {"datum": 0, "type": "quantitative", "scale": {"domain": [-5.05, 5.1], "nice": false}, "axis": null}
          }
        },
        {
          "data": {"name": "resid"},
          "transform": [{"filter": "datum.s != 'pn'"}],
          "mark": {"type": "point", "filled": true, "opacity": 1, "stroke": "#222222", "strokeWidth": 0.4, "clip": true},
          "encoding": {
            "x": {"field": "E", "type": "quantitative", "scale": {"type": "log", "domain": [0.3, 1.5], "nice": false}, "axis": {"orient": "top", "values": [0.4, 0.5, 0.6, 0.7, 0.8, 0.9, 1.0], "labels": false, "title": null}},
            "y": {"field": "r", "type": "quantitative", "scale": {"domain": [-5.05, 5.1], "nice": false}, "axis": {"orient": "right", "values": [-4, -3, -2, -1, 0, 1, 2, 3, 4], "labels": false, "title": null}},
            "color": {"field": "s", "type": "nominal", "scale": {"domain": ["pn", "MOS1", "MOS2"], "range": ["#000000", "#0000ff", "#ff0000"]}, "legend": null},
            "shape": {"field": "s", "type": "nominal", "scale": {"domain": ["pn", "MOS1", "MOS2"], "range": ["circle", "triangle-up", "triangle-down"]}, "legend": null},
            "size": {"value": 78}
          }
        },
        {
          "data": {"name": "resid"},
          "transform": [{"filter": "datum.s == 'pn'"}],
          "mark": {"type": "circle", "color": "#000000", "opacity": 1, "size": 92, "clip": true},
          "encoding": {
            "x": {"field": "E", "type": "quantitative", "scale": {"type": "log", "domain": [0.3, 1.5], "nice": false}, "axis": {"orient": "bottom", "values": [0.4, 0.5, 0.6, 0.7, 0.8, 0.9, 1.0, 1.5], "format": ".1f", "labelExpr": "(datum.value == 0.5 || datum.value == 1 || datum.value == 1.5) ? datum.label : ''", "title": "Energy [keV]", "titlePadding": 6}},
            "y": {"field": "r", "type": "quantitative", "axis": {"orient": "left", "values": [-4, -3, -2, -1, 0, 1, 2, 3, 4], "labelExpr": "datum.value == 0 ? '0.0' : (datum.value == 3 ? '3' : (datum.value == -3 ? '-3' : ''))", "title": "ΔI/σ", "titleFontStyle": "italic", "titlePadding": 12}}
          }
        }
      ]
    }
  ]
}
